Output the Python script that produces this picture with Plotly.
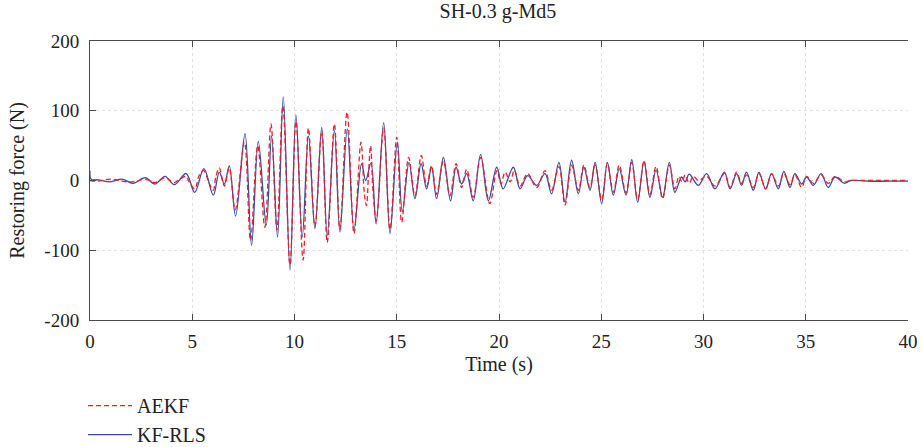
import plotly.graph_objects as go

# KF-RLS (blue, solid) extremes: time (s), force (N)
kf_t = [0.0, 0.05, 0.4, 1.0, 1.55, 2.1, 2.7, 3.18, 3.67, 4.12, 4.7, 5.12, 5.57, 6.03, 6.32, 6.57, 6.81,
        7.12, 7.58, 7.9, 8.23, 8.62, 8.88, 9.17, 9.45, 9.78, 10.07, 10.38, 10.68, 11.0, 11.33, 11.6,
        11.95, 12.22, 12.58, 12.91, 13.28, 13.48, 13.74, 13.99, 14.36, 14.67, 15.03, 15.27, 15.6,
        15.89, 16.19, 16.46, 16.7, 16.95, 17.28, 17.63, 17.9, 18.17, 18.42, 18.74, 19.1, 19.48,
        19.89, 20.2, 20.7, 21.03, 21.4, 21.84, 22.25, 22.57, 22.93, 23.23, 23.55, 23.88, 24.15,
        24.45, 24.7, 25.02, 25.3, 25.59, 25.88, 26.21, 26.49, 26.78, 27.09, 27.38, 27.68, 28.0,
        28.33, 28.6, 28.93, 29.1, 29.3, 29.75, 30.15, 30.56, 31.02, 31.3, 31.62, 31.86, 32.1,
        32.44, 32.71, 33.04, 33.33, 33.66, 33.93, 34.23, 34.47, 34.8, 35.04, 35.37, 35.75, 36.1,
        36.43, 36.89, 37.2, 38.0, 39.0, 40.0]
kf_f = [14, 2, 1, -2, 2, -4, 4, -5, 6, -6, 10, -17, 17, -21, 12, -5, 21,
        -51, 67, -93, 56, -64, 64, -81, 120, -128, 94, -81, 64, -69, 76, -79,
        72, -74, 74, -71, 24, 0, 25, -62, 83, -76, 55, -45, 26,
        -26, 24, -12, 19, -26, 33, -29, 19, -5, 10, -29, 37, -29,
        19, -12, 19, -12, 7, -7, 10, -19, 26, -31, 29, -19, 19,
        -14, 26, -33, 26, -21, 17, -21, 30, -31, 27, -24, 15, -24,
        26, -17, 5, -2, 9, -7, 10, -12, 12, -12, 10, -7, 12,
        -14, 12, -12, 10, -12, 13, -10, 10, -5, 5, -7, 10, -10,
        5, -4, 0, -1, -1, -1]

# AEKF (red, dashed) extremes
aekf_t = [0.0, 0.4, 1.0, 1.55, 2.1, 2.7, 3.18, 3.67, 4.12, 4.45, 4.7, 4.85, 5.12, 5.35, 5.57, 5.8,
          6.03, 6.15, 6.32, 6.57, 6.81, 7.1, 7.55, 7.85, 8.2, 8.55, 8.85, 9.14, 9.43, 9.78, 10.07,
          10.42, 10.68, 11.0, 11.33, 11.6, 11.95, 12.22, 12.57, 12.91, 13.25, 13.42, 13.52, 13.62,
          13.72, 13.85, 14.0, 14.36, 14.67, 15.0, 15.24, 15.58, 15.89, 16.2, 16.46, 16.7, 16.95,
          17.28, 17.6, 17.9, 18.17, 18.42, 18.74, 19.1, 19.55, 19.9, 20.1, 20.3, 20.55, 20.75,
          21.03, 21.4, 21.84, 22.25, 22.57, 22.93, 23.23, 23.55, 23.88, 24.15, 24.45, 24.7, 25.02,
          25.3, 25.59, 25.88, 26.21, 26.49, 26.78, 27.09, 27.38, 27.68, 28.0, 28.33, 28.6, 28.8,
          28.95, 29.1, 29.3, 29.5, 29.75, 30.15, 30.56, 31.02, 31.3, 31.62, 31.86, 32.1, 32.44,
          32.71, 33.04, 33.33, 33.66, 33.93, 34.23, 34.47, 34.8, 35.04, 35.37, 35.75, 36.1, 36.43,
          36.89, 37.2, 38.0, 40.0]
aekf_f = [0, -1, 2, -1, -2, 2, -3, 4, -3, 3, 6, -2, -12, 8, 14, -2,
          -14, 5, 18, -8, 18, -42, 55, -86, 50, -67, 81, -71, 107, -121, 85,
          -114, 75, -66, 71, -89, 81, -70, 98, -76, 55, -20, -36, 10,
          50, -20, -58, 75, -70, 62, -60, 33, -22, 36, -8, 21, -20,
          28, -22, 24, -10, 16, -24, 33, -33, 14, -5, 12, -2, 15,
          -8, 10, -10, 14, -14, 20, -35, 22, -14, 22, -10, 22, -28,
          24, -17, 22, -18, 26, -27, 28, -20, 20, -26, 22, -12, 6,
          -2, 8, -4, 6, 0, 6, -8, 10, -10, 12, -4, 8, -10,
          10, -12, 10, -8, 10, -6, 8, -10, 6, -4, 8, -4, 6,
          -2, 0, 0, 0]

x_ticks = [0, 5, 10, 15, 20, 25, 30, 35, 40]
y_ticks = [-200, -100, 0, 100, 200]
y_tick_text = ["-200", "-100", "0", "100", "200"]

font_family = "Liberation Serif"
text_color = "#222222"

fig = go.Figure()
fig.add_trace(go.Scatter(x=kf_t, y=kf_f, name="KF-RLS", mode="lines",
                         line=dict(color="#3b4a9c", width=1.3, shape="spline", smoothing=1.0)))
fig.add_trace(go.Scatter(x=aekf_t, y=aekf_f, name="AEKF", mode="lines",
                         line=dict(color="#e8222c", width=1.3, dash="5px,3px", shape="spline",
                                   smoothing=1.0)))

axis_common = dict(showline=True, linecolor="#4a4a4a", linewidth=1, ticks="inside",
                   ticklen=6, tickcolor="#4a4a4a", showgrid=True, gridcolor="#e2e2e2",
                   griddash="dot", gridwidth=1, zeroline=False, automargin=False,
                   tickfont=dict(family=font_family, size=19, color=text_color))

fig.update_layout(
    width=922, height=447,
    margin=dict(l=90, r=14, t=41, b=127, autoexpand=False),
    paper_bgcolor="white", plot_bgcolor="white",
    title=dict(text="SH-0.3 g-Md5", x=0.54, xanchor="center", y=0.99, yanchor="top",
               font=dict(family=font_family, size=20, color=text_color)),
    xaxis=dict(range=[0, 40], tickvals=x_ticks, mirror="ticks", ticklabelstandoff=4,
               title=dict(text="Time (s)", standoff=6,
                          font=dict(family=font_family, size=20, color=text_color)),
               **axis_common),
    yaxis=dict(range=[-200, 200], tickvals=y_ticks, ticktext=y_tick_text, ticklabelstandoff=6,
               title=dict(text="Restoring force (N)", standoff=14,
                          font=dict(family=font_family, size=20, color=text_color)),
               **axis_common),
    showlegend=True,
    legend=dict(x=-0.0086, y=-0.237, xanchor="left", yanchor="top", traceorder="reversed",
                itemwidth=44, font=dict(family=font_family, size=20, color=text_color),
                bgcolor="rgba(0,0,0,0)", tracegroupgap=0),
)

fig.write_html("out.html")
